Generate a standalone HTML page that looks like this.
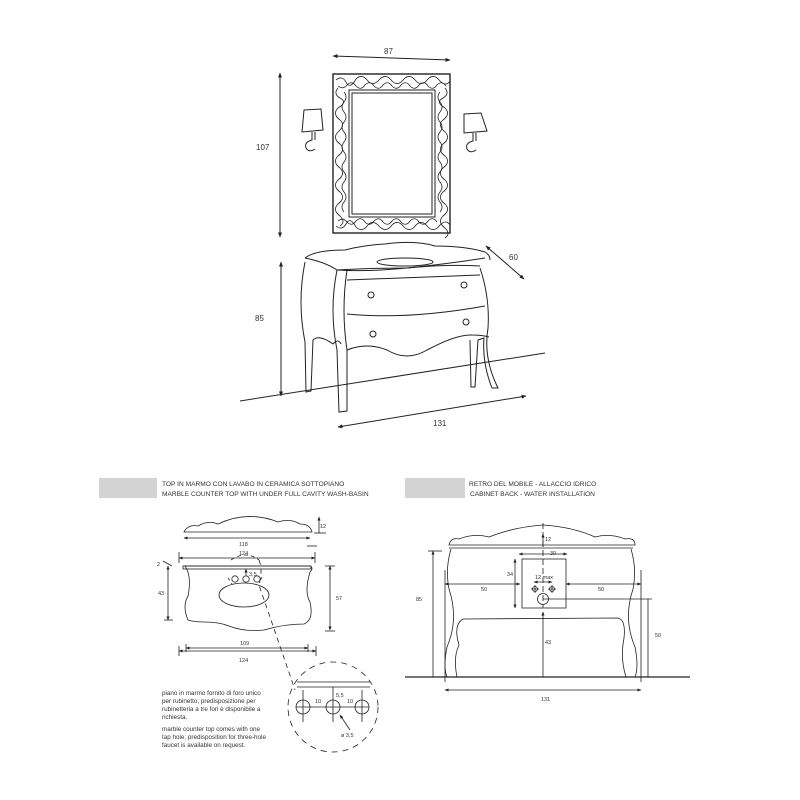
<!DOCTYPE html>
<html><head><meta charset="utf-8"><style>
html,body{margin:0;padding:0;background:#fff}
svg{display:block}
text{font-family:"Liberation Sans",sans-serif;fill:#333}
</style></head><body>
<svg width="800" height="800" viewBox="0 0 800 800" xmlns="http://www.w3.org/2000/svg">
<defs>
<marker id="a" viewBox="0 0 10 10" refX="9" refY="5" markerWidth="5" markerHeight="5" orient="auto-start-reverse"><path d="M0,1 L10,5 L0,9 z" fill="#222"/></marker>
</defs>
<g stroke="#222" fill="none" stroke-width="1">
<!-- top dims -->
<line x1="333" y1="56" x2="450" y2="60" marker-start="url(#a)" marker-end="url(#a)"/>
<line x1="280" y1="73" x2="280" y2="237" marker-start="url(#a)" marker-end="url(#a)"/>
<line x1="281" y1="262" x2="281" y2="396" marker-start="url(#a)" marker-end="url(#a)"/>
<line x1="486" y1="246" x2="524" y2="279" marker-start="url(#a)" marker-end="url(#a)"/>
<line x1="338" y1="427" x2="526" y2="396" marker-start="url(#a)" marker-end="url(#a)"/>
<line x1="240" y1="401" x2="545" y2="353"/>
<!-- mirror -->
<rect x="333" y="74" width="117" height="159" stroke-width="1.4"/>
<rect x="349" y="90" width="86" height="127"/>
<rect x="352" y="93" width="80" height="121"/>
<g stroke-width="0.8">
<path d="M336,80 q6,-5 10,2 q4,8 10,-3 q6,-6 12,2 q5,6 12,-2 q6,-6 12,2 q6,6 12,-2 q6,-6 12,2 q6,6 12,-2 q6,-6 12,2 q6,6 10,0"/>
<path d="M338,86 q5,4 9,-1 q5,-5 9,1 q5,5 9,-1 q5,-5 9,1 q5,5 9,-1 q5,-5 9,1 q5,5 9,-1 q5,-5 9,1 q5,5 9,-1 q5,-5 9,1 q5,5 9,-1 q5,-5 9,1"/>
<path d="M336,226 q6,5 10,-2 q4,-8 10,3 q6,6 12,-2 q5,-6 12,2 q6,6 12,-2 q6,-6 12,2 q6,6 12,-2 q6,-6 12,2 q6,6 12,-2 q6,-6 10,0"/>
<path d="M338,221 q5,-4 9,1 q5,5 9,-1 q5,-5 9,1 q5,5 9,-1 q5,-5 9,1 q5,5 9,-1 q5,-5 9,1 q5,5 9,-1 q5,-5 9,1 q5,5 9,-1 q5,-5 9,1"/>
<path d="M338,88 q-5,6 2,10 q8,4 -2,10 q-6,6 2,12 q6,5 -2,12 q-6,6 2,12 q6,6 -2,12 q-6,6 2,12 q6,6 -2,12 q-6,6 2,12 q6,6 -2,12 q-6,6 2,12 q6,6 0,10"/>
<path d="M344,92 q4,5 0,10 q-4,5 0,10 q4,5 0,10 q-4,5 0,10 q4,5 0,10 q-4,5 0,10 q4,5 0,10 q-4,5 0,10 q4,5 0,10 q-4,5 0,10 q4,5 0,10 q-4,5 0,10"/>
<path d="M445,88 q5,6 -2,10 q-8,4 2,10 q6,6 -2,12 q-6,5 2,12 q6,6 -2,12 q-6,6 2,12 q6,6 -2,12 q-6,6 2,12 q6,6 -2,12 q-6,6 2,12 q6,6 -2,12 q-6,6 2,12 q6,6 0,10"/>
<path d="M440,92 q-4,5 0,10 q4,5 0,10 q-4,5 0,10 q4,5 0,10 q-4,5 0,10 q4,5 0,10 q-4,5 0,10 q4,5 0,10 q-4,5 0,10 q4,5 0,10 q-4,5 0,10 q4,5 0,10"/>
</g>
<!-- lamps -->
<path d="M304,110 L321,109 L323,130 L302,132 z"/>
<path d="M312,132 L312,140 q-8,2 -6,8 q3,5 9,1 M315,132 L315,140"/>
<path d="M464,114 L481,113 L487,131 L464,133 z"/>
<path d="M473,133 L473,141 q-8,2 -6,8 q3,5 9,1 M476,133 L476,141"/>
<!-- cabinet -->
<path d="M305,258 q10,-8 40,-8 q20,-5 40,-6 q30,-4 50,2 q30,0 50,6 q5,3 5,8"/>
<path d="M305,258 q20,4 32,12 q40,-2 70,-2 q40,-4 78,-10"/>
<path d="M337,270 q30,2 70,-2 q40,-4 73,-2"/>
<ellipse cx="405" cy="262" rx="28" ry="4"/>
<path d="M305,262 q-8,40 0,80 L306,392 L311,391 L313,340 q6,-6 20,4 q5,-6 8,0"/>
<path d="M337,270 q-8,40 0,80 L339,412 L347,411 L347,350 q-6,-40 0,-80"/>
<path d="M347,280 L480,275"/>
<path d="M347,314 q60,6 138,-8"/>
<path d="M347,350 q20,-8 40,0 q20,12 40,0 q30,-16 45,-15 q10,0 17,2"/>
<path d="M480,268 q10,30 8,60 q-5,30 10,60 L492,388 q-10,-25 -8,-50 L478,340 L475,387 L471,387 L470,340"/>
<circle cx="371" cy="295" r="3"/><circle cx="464" cy="285" r="3"/>
<circle cx="373" cy="334" r="3"/><circle cx="466" cy="322" r="3"/>
</g>
<g font-size="8">
<text x="384" y="54">87</text>
<text x="256" y="150">107</text>
<text x="255" y="321">85</text>
<text x="509" y="260">60</text>
<text x="433" y="426">131</text>
</g>

<!-- headers -->
<rect x="99" y="478" width="58" height="20" fill="#d3d3d3"/>
<rect x="405" y="478" width="60" height="20" fill="#d3d3d3"/>
<g font-size="6.6">
<text x="162" y="486">TOP IN MARMO CON LAVABO IN CERAMICA SOTTOPIANO</text>
<text x="162" y="496">MARBLE COUNTER TOP WITH UNDER FULL CAVITY WASH-BASIN</text>
<text x="469" y="486">RETRO DEL MOBILE - ALLACCIO IDRICO</text>
<text x="470" y="496">CABINET BACK - WATER INSTALLATION</text>
</g>

<!-- bottom left -->
<g stroke="#222" fill="none" stroke-width="0.8">
<path d="M184,532 q4,-8 14,-6 q10,-6 20,-2 q30,-14 60,-2 q12,-4 22,2 q10,0 12,8 z"/>
<line x1="184" y1="538" x2="310" y2="538" marker-start="url(#a)" marker-end="url(#a)"/>
<line x1="319" y1="517" x2="319" y2="533" marker-start="url(#a)"/>
<line x1="314" y1="533" x2="326" y2="533"/>
<line x1="307" y1="546" x2="317" y2="546"/>
<line x1="179" y1="558" x2="315" y2="558" marker-start="url(#a)" marker-end="url(#a)"/>
<line x1="179" y1="552" x2="179" y2="563"/><line x1="315" y1="552" x2="315" y2="563"/>
<path d="M184,566 L310,566 q4,2 0,6 q-6,20 0,30 q4,18 -6,22 q-20,0 -40,6 q-20,2 -35,-4 q-10,-4 -25,-4 q-10,0 -16,-2 q-6,-14 0,-24 q4,-20 -3,-30 z"/>
<rect x="183" y="566" width="128" height="3"/>
<circle cx="235" cy="579" r="3.2"/><circle cx="246" cy="579" r="3.2"/><circle cx="257" cy="579" r="3.2"/>
<ellipse cx="244" cy="595" rx="25" ry="12"/>
<line x1="246" y1="575" x2="246" y2="569" marker-end="url(#a)"/>
<line x1="168" y1="566" x2="168" y2="620" marker-start="url(#a)" marker-end="url(#a)"/>
<line x1="164" y1="620" x2="173" y2="620"/>
<line x1="163" y1="561" x2="172" y2="566"/>
<line x1="330" y1="566" x2="330" y2="630" marker-start="url(#a)" marker-end="url(#a)"/>
<line x1="325" y1="566" x2="335" y2="566"/><line x1="325" y1="631" x2="335" y2="631"/>
<line x1="186" y1="648" x2="308" y2="648" marker-start="url(#a)" marker-end="url(#a)"/>
<line x1="179" y1="651" x2="316" y2="651" marker-start="url(#a)" marker-end="url(#a)"/>
<line x1="179" y1="646" x2="179" y2="656"/><line x1="316" y1="646" x2="316" y2="656"/>
<line x1="186" y1="644" x2="186" y2="652"/><line x1="308" y1="644" x2="308" y2="652"/>
<path d="M231,560 q15,-10 28,0" stroke-dasharray="4,3"/>
<path d="M228,578 l4,6 M262,577 l-3,6" stroke-dasharray="3,3"/>
<path d="M259,560 q4,10 0,25 L295,690" stroke-dasharray="5,4"/>
<circle cx="333" cy="707" r="45" stroke-dasharray="6,5"/>
<line x1="297" y1="682" x2="370" y2="682"/><line x1="297" y1="687" x2="370" y2="687"/>
<circle cx="303" cy="707" r="7"/><circle cx="333" cy="707" r="7"/><circle cx="362" cy="707" r="7"/>
<line x1="303" y1="690" x2="303" y2="722"/><line x1="333" y1="687" x2="333" y2="722"/><line x1="362" y1="690" x2="362" y2="722"/>
<line x1="296" y1="707" x2="369" y2="707"/>
<line x1="340" y1="715" x2="350" y2="730" marker-start="url(#a)"/>
</g>
<g font-size="5.5">
<text x="320" y="528">12</text>
<text x="239" y="546">118</text>
<text x="239" y="555">124</text>
<text x="157" y="566">2</text>
<text x="158" y="595">43</text>
<text x="249" y="576">3,5</text>
<text x="336" y="600">57</text>
<text x="240" y="645">109</text>
<text x="239" y="662">124</text>
<text x="315" y="703">10</text>
<text x="347" y="703">10</text>
<text x="336" y="697">5,5</text>
<text x="341" y="737">ø 3,5</text>
</g>
<g font-size="6.3">
<text x="162" y="695">piano in marmo fornito di  foro unico</text>
<text x="162" y="703">per rubinetto; predisposizione per</text>
<text x="162" y="711">rubinetteria a tre fori è disponibile a</text>
<text x="162" y="719">richiesta.</text>
<text x="162" y="731">marble counter top comes with one</text>
<text x="162" y="739">tap hole; predisposition for three-hole</text>
<text x="162" y="747">faucet is available on request.</text>
</g>

<!-- bottom right -->
<g stroke="#222" fill="none" stroke-width="0.8">
<line x1="405" y1="677" x2="690" y2="677" stroke-width="1.3"/>
<path d="M449,545 q2,-8 10,-6 q15,-6 30,-2 q25,-10 54,-12 q30,2 52,12 q15,-4 30,2 q10,-2 10,6 z"/>
<line x1="449" y1="548" x2="633" y2="548"/>
<path d="M451,549 q-6,20 -2,40 q10,30 -2,58 q-4,20 0,30"/>
<path d="M457,677 q-4,-20 2,-32 q-6,-20 4,-26 L618,618 q8,2 6,20 q-4,20 2,39"/>
<path d="M631,549 q6,20 2,40 q-10,30 2,58 q4,20 0,30"/>
<line x1="445" y1="570" x2="445" y2="682"/><line x1="641" y1="570" x2="641" y2="682"/>
<rect x="522" y="559" width="44" height="49"/>
<line x1="543" y1="523" x2="543" y2="608" stroke-dasharray="6,3"/>
<line x1="543" y1="534" x2="543" y2="547" marker-start="url(#a)"/>
<line x1="519" y1="554" x2="567" y2="554" marker-start="url(#a)" marker-end="url(#a)"/>
<line x1="515" y1="559" x2="515" y2="608" marker-start="url(#a)" marker-end="url(#a)"/>
<line x1="534" y1="582" x2="552" y2="582" marker-start="url(#a)" marker-end="url(#a)"/>
<line x1="445" y1="584" x2="520" y2="584" marker-start="url(#a)" marker-end="url(#a)"/>
<line x1="566" y1="584" x2="641" y2="584" marker-start="url(#a)" marker-end="url(#a)"/>
<circle cx="535" cy="589" r="2.5"/><circle cx="552" cy="589" r="2.5"/>
<path d="M531,589 h8 M535,585 v8 M548,589 h8 M552,585 v8"/>
<circle cx="543" cy="599" r="5.5"/>
<line x1="543" y1="599" x2="652" y2="599"/>
<line x1="543" y1="612" x2="543" y2="677" marker-start="url(#a)"/>
<line x1="648" y1="599" x2="648" y2="677"/>
<line x1="433" y1="551" x2="433" y2="677" marker-start="url(#a)"/>
<line x1="428" y1="551" x2="442" y2="551"/>
<line x1="445" y1="690" x2="641" y2="690" marker-start="url(#a)" marker-end="url(#a)"/>
</g>
<g font-size="5.5">
<text x="545" y="541">12</text>
<text x="550" y="555">30</text>
<text x="507" y="576">34</text>
<text x="535" y="579">12 max</text>
<text x="481" y="591">50</text>
<text x="598" y="591">50</text>
<text x="416" y="601">85</text>
<text x="545" y="644">43</text>
<text x="655" y="637">50</text>
<text x="541" y="701">131</text>
</g>
</svg>
</body></html>
